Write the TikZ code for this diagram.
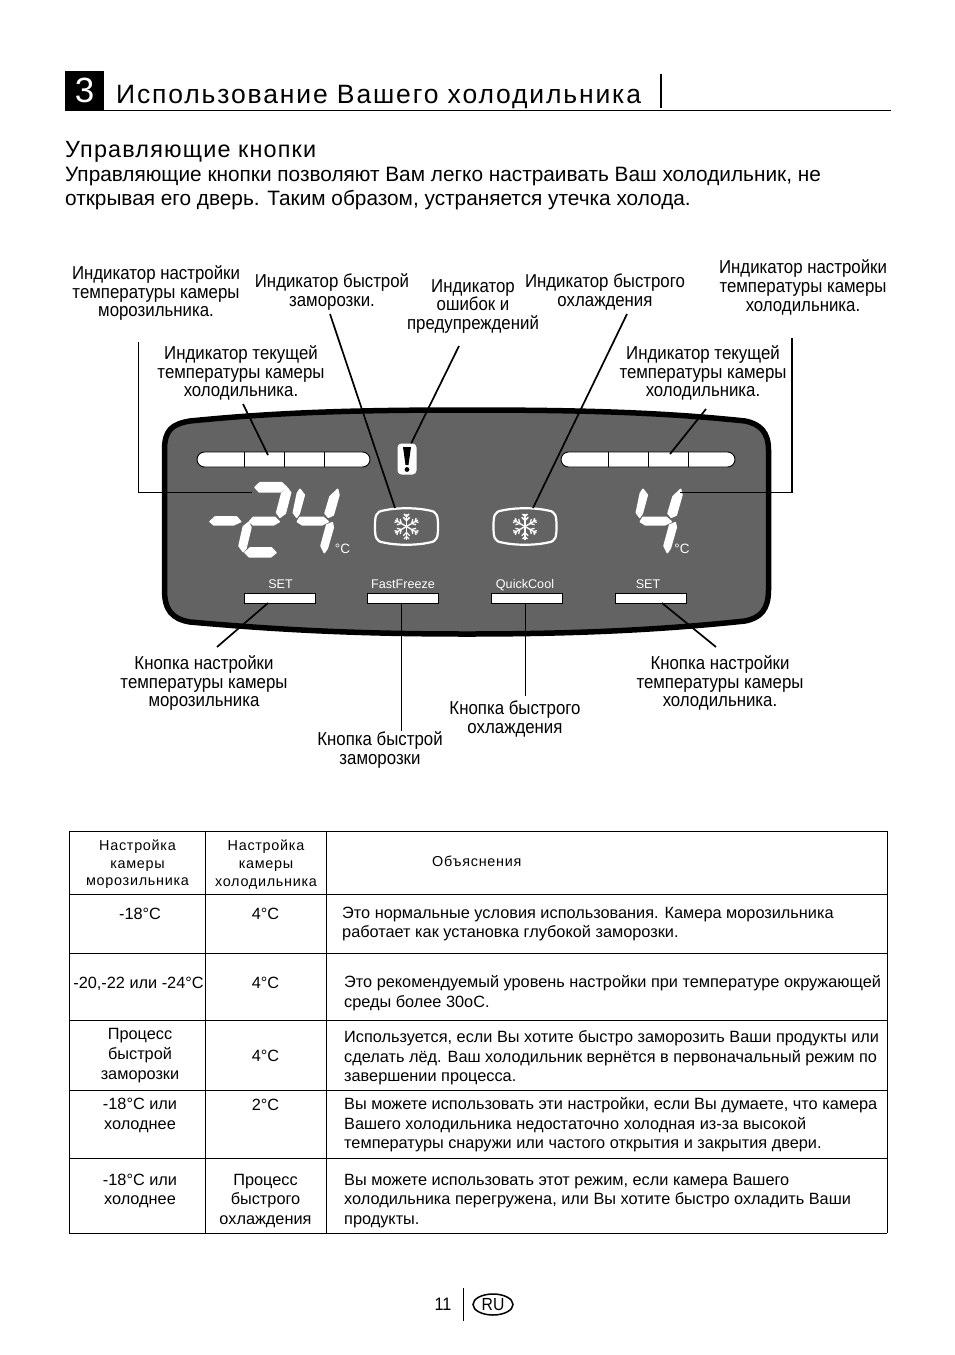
\documentclass[tikz,border=0pt]{standalone}
\usepackage{fontspec}
\usetikzlibrary{shapes.geometric}
\setmainfont{Liberation Sans}
\newfontfamily\labelfont[FakeStretch=0.9]{Liberation Sans}
\newfontfamily\widefont[LetterSpace=5]{Liberation Sans}
\newfontfamily\headfont[LetterSpace=7]{Liberation Sans}
\definecolor{panelgray}{HTML}{636363}

\newcommand{\fourdigit}{
    \filldraw[seg] (450,238) -- (463,255) -- (448,310) -- (440,322) -- (430,308) -- (442,250) -- cycle;
    \filldraw[seg] (450,322) -- (520,322) -- (535,335) -- (515,345) -- (458,345) -- (442,335) -- cycle;
    \filldraw[seg] (563,238) -- (567,255) -- (550,315) -- (535,322) -- (525,310) -- (540,260) -- cycle;
    \filldraw[seg] (547,338) -- (550,352) -- (532,415) -- (523,428) -- (513,408) -- (530,345) -- cycle;
}

\begin{document}
\begin{tikzpicture}[
        x=1pt, y=-1pt,
        callout/.style={font=\labelfont\fontsize{18.7}{18.6}\selectfont, align=center, inner sep=0pt},
        cell/.style={font=\fontsize{16.3}{19.6}\selectfont, align=center, inner sep=0pt},
        notecell/.style={font=\fontsize{16.3}{19.6}\selectfont, align=left, anchor=west, inner sep=0pt},
        headcell/.style={font=\widefont\fontsize{14.4}{17.6}\selectfont, align=center, inner sep=0pt},
        leader/.style={line width=1.7pt},
        grid/.style={line width=1pt},
        seg/.style={fill=white, draw=white, line width=1.5pt, line join=round},
        bar/.style={draw=black, fill=white, rounded corners=7.5pt, minimum width=#1, minimum height=15pt, inner sep=0pt, line width=0.9pt},
        btn/.style={draw=black, fill=white, minimum width=71pt, minimum height=10pt, inner sep=0pt, line width=0.9pt},
        btntext/.style={text=white, font=\fontsize{12.6}{14}\selectfont, inner sep=0pt, text height=9pt, text depth=0pt},
        freezeicon/.pic={
            \draw[white, line width=2.2pt] (-31.5,0) .. controls (-31.5,-10) and (-31,-15) .. (-23,-16)
                .. controls (-10,-19) and (10,-19) .. (23,-16)
                .. controls (31,-15) and (31.5,-10) .. (31.5,0)
                .. controls (31.5,10) and (31,15) .. (23,16)
                .. controls (10,19) and (-10,19) .. (-23,16)
                .. controls (-31,15) and (-31.5,10) .. (-31.5,0) -- cycle;
            \foreach \a in {90,150,...,450} {
                \begin{scope}[rotate=\a, white, line width=1.3pt]
                    \draw (0,0) -- (13,0);
                    \draw (6,0) -- +(45:4.5);
                    \draw (6,0) -- +(-45:4.5);
                    \draw (10,0) -- +(45:3.5);
                    \draw (10,0) -- +(-45:3.5);
                \end{scope}
            }
        }
        ]
        \useasboundingbox (0,0) rectangle (954,1355);
        \fill[white] (0,0) rectangle (954,1355);

        % title
        \node[fill=black, text=white, minimum size=39pt, inner sep=0pt, font=\fontsize{35}{35}\selectfont] (chapter) at (84.5,90.5) {\raisebox{-1pt}{3}};
        \node[anchor=base west, inner sep=0pt, font=\headfont\fontsize{26.5}{30}\selectfont] (title) at (116,103.5) {Использование Вашего холодильника};
        \draw[line width=1pt] (65,110.5) -- (891,110.5);
        \draw[line width=1.5pt] (661,74) -- (661,108);
        \node[anchor=base west, inner sep=0pt, font=\widefont\fontsize{23.4}{26}\selectfont] (subtitle) at (65,157) {Управляющие кнопки};
        \node[anchor=base west, inner sep=0pt, font=\fontsize{20.8}{24}\selectfont] (introa) at (65,181) {Управляющие кнопки позволяют Вам легко настраивать Ваш холодильник, не};
        \node[anchor=base west, inner sep=0pt, font=\fontsize{20.8}{24}\selectfont] (introb) at (65,205) {открывая его дверь. Таким образом, устраняется утечка холода.};

        % panel
        \draw[fill=panelgray, line width=5.5pt] (164.5,450) .. controls (164.5,430) and (172,424) .. (190,421)
            .. controls (280,412) and (360,410) .. (467,410)
            .. controls (575,410) and (660,412) .. (745,421)
            .. controls (760,424) and (768.5,432) .. (768.5,450)
            -- (768.5,590)
            .. controls (768.5,610) and (760,618) .. (745,621)
            .. controls (660,630) and (575,634) .. (467,634)
            .. controls (360,634) and (280,630) .. (190,622)
            .. controls (172,619) and (164.5,610) .. (164.5,590) -- cycle;

        \node[bar=173pt] (barl) at (283.5,459.5) {};
        \node[bar=174pt] (barr) at (648,459.5) {};
        \foreach \x in {244,284,324} {
            \draw[line width=0.9pt] (\x,452) -- (\x,467);
            \draw[line width=0.9pt] (\x+364,452) -- (\x+364,467);
        }

        \begin{scope}[shift={(150,410)}, x=0.3333pt, y=-0.3333pt]
            \filldraw[seg] (180,335) -- (195,321) -- (260,321) -- (272,335) -- (250,345) -- (192,345) -- cycle;
            \filldraw[seg] (315,232) -- (330,218) -- (395,218) -- (410,232) -- (390,246) -- (328,246) -- cycle;
            \filldraw[seg] (412,234) -- (422,248) -- (406,310) -- (390,322) -- (380,308) -- (395,250) -- cycle;
            \filldraw[seg] (298,335) -- (310,322) -- (375,322) -- (388,335) -- (370,345) -- (310,345) -- cycle;
            \filldraw[seg] (295,338) -- (303,352) -- (288,415) -- (280,425) -- (267,408) -- (280,350) -- cycle;
            \filldraw[seg] (285,428) -- (300,414) -- (365,414) -- (378,428) -- (362,441) -- (298,441) -- cycle;
            \fourdigit
        \end{scope}
        \begin{scope}[shift={(493,410)}, x=0.3333pt, y=-0.3333pt]
            \fourdigit
        \end{scope}
        \node[btntext, font=\fontsize{13.5}{15}\selectfont] (degl) at (342.5,549) {°C};
        \node[btntext, font=\fontsize{13.5}{15}\selectfont] (degr) at (682,549) {°C};

        % warning sign
        \node[fill=white, rounded corners=4pt, minimum width=19pt, minimum height=31pt, inner sep=0pt] (warn) at (407,459) {};
        \fill[black] (403,447) -- (411,447) -- (408.5,465) -- (405.5,465) -- cycle;
        \fill[black] (407,469.5) circle (2.4pt);

        \pic at (406.5,526.5) {freezeicon};
        \pic at (525,526.5) {freezeicon};

        % buttons
        \node[btn] (btnsetl) at (279.5,598) {};
        \node[btn] (btnff) at (403,598) {};
        \node[btn] (btnqc) at (527,598) {};
        \node[btn] (btnsetr) at (651,598) {};
        \node[btntext] (txtsetl) at (280.5,584) {SET};
        \node[btntext] (txtff) at (403,584) {FastFreeze};
        \node[btntext] (txtqc) at (525,584) {QuickCool};
        \node[btntext] (txtsetr) at (648,584) {SET};

        % callouts
        \node[callout] (setfrz) at (156,293) {Индикатор настройки\\температуры камеры\\морозильника.};
        \node[callout] (fastind) at (332,292) {Индикатор быстрой\\заморозки.};
        \node[callout] (warnind) at (473,306.5) {Индикатор\\ошибок и\\предупреждений};
        \node[callout] (coolind) at (605,292) {Индикатор быстрого\\охлаждения};
        \node[callout] (setfrg) at (803,287.5) {Индикатор настройки\\температуры камеры\\холодильника.};
        \node[callout] (curl) at (241,373) {Индикатор текущей\\температуры камеры\\холодильника.};
        \node[callout] (curr) at (703,373) {Индикатор текущей\\температуры камеры\\холодильника.};
        \node[callout] (btnfrz) at (204,683) {Кнопка настройки\\температуры камеры\\морозильника};
        \node[callout] (btnfast) at (380,750) {Кнопка быстрой\\заморозки};
        \node[callout] (btncool) at (515,719) {Кнопка быстрого\\охлаждения};
        \node[callout] (btnfrg) at (720,683) {Кнопка настройки\\температуры камеры\\холодильника.};

        % leaders
        \coordinate (a1) at (138.5,342);
        \coordinate (a2) at (252,492.5);
        \coordinate (b1) at (792,338);
        \coordinate (b2) at (680,492.5);
        \draw[leader] (a1) |- (a2);
        \draw[leader] (b1) |- (b2);
        \coordinate (c1) at (330,314);
        \coordinate (c2) at (395,508);
        \coordinate (d1) at (243,404);
        \coordinate (d2) at (268,455);
        \coordinate (e1) at (459,346);
        \coordinate (f1) at (627,314);
        \coordinate (f2) at (533,508);
        \coordinate (g1) at (706,409);
        \coordinate (g2) at (670,454);
        \draw[leader] (c1) -- (c2);
        \draw[leader] (d1) -- (d2);
        \draw[leader] (e1) -- (warn.75);
        \draw[leader] (f1) -- (f2);
        \draw[leader] (g1) -- (g2);
        \coordinate (h1) at (268,603);
        \coordinate (h2) at (217,647);
        \coordinate (i1) at (662,603);
        \coordinate (i2) at (716,647);
        \coordinate (j2) at (401.5,731);
        \coordinate (k2) at (525.5,696);
        \draw[leader] (h1) -- (h2);
        \draw[leader] (i1) -- (i2);
        \draw[leader] (btnff.south -| j2) -- (j2);
        \draw[leader] (btnqc.south -| k2) -- (k2);

        % table
        \foreach \y in {831,894,953,1020,1090.5,1158,1233} {
            \draw[grid] (69,\y) -- (887,\y);
        }
        \foreach \x in {69,205.5,326.5,887} {
            \draw[grid] (\x,831) -- (\x,1233);
        }
        \node[headcell] (hfrz) at (137.5,864.5) {Настройка\\камеры\\морозильника};
        \node[headcell] (hfrg) at (266,864.5) {Настройка\\камеры\\холодильника};
        \node[headcell, anchor=west] (hnote) at (432,861) {Объяснения};

        \node[cell] (aa) at (140,914) {-18°C};
        \node[cell] (ab) at (265.5,914) {4°C};
        \node[notecell] (ac) at (342,924) {Это нормальные условия использования. Камера морозильника\\работает как установка глубокой заморозки.};
        \node[cell] (ba) at (138.5,983.5) {-20,-22 или -24°C};
        \node[cell] (bb) at (265.5,983) {4°C};
        \node[notecell] (bc) at (344,993) {Это рекомендуемый уровень настройки при температуре окружающей\\среды более 30оС.};
        \node[cell] (ca) at (140,1055.5) {Процесс\\быстрой\\заморозки};
        \node[cell] (cb) at (265.5,1056) {4°C};
        \node[notecell] (cc) at (344,1058) {Используется, если Вы хотите быстро заморозить Ваши продукты или\\сделать лёд. Ваш холодильник вернётся в первоначальный режим по\\завершении процесса.};
        \node[cell] (da) at (140,1115.5) {-18°C или\\холоднее};
        \node[cell] (db) at (265.5,1105) {2°C};
        \node[notecell] (dc) at (344,1125) {Вы можете использовать эти настройки, если Вы думаете, что камера\\Вашего холодильника недостаточно холодная из-за высокой\\температуры снаружи или частого открытия и закрытия двери.};
        \node[cell] (ea) at (140,1191) {-18°C или\\холоднее};
        \node[cell] (eb) at (265.5,1201) {Процесс\\быстрого\\охлаждения};
        \node[notecell] (ec) at (344,1201) {Вы можете использовать этот режим, если камера Вашего\\холодильника перегружена, или Вы хотите быстро охладить Ваши\\продукты.};

        % page number
        \node[inner sep=0pt, font=\labelfont\fontsize{18}{20}\selectfont] (page) at (443,1304.5) {11};
        \draw[line width=1pt] (463.5,1288) -- (463.5,1321);
        \node[draw, ellipse, line width=1.5pt, minimum width=40pt, minimum height=21pt, inner sep=0pt, font=\labelfont\fontsize{17.5}{19}\selectfont] (lang) at (493,1304.5) {RU};
    \end{tikzpicture}
\end{document}
